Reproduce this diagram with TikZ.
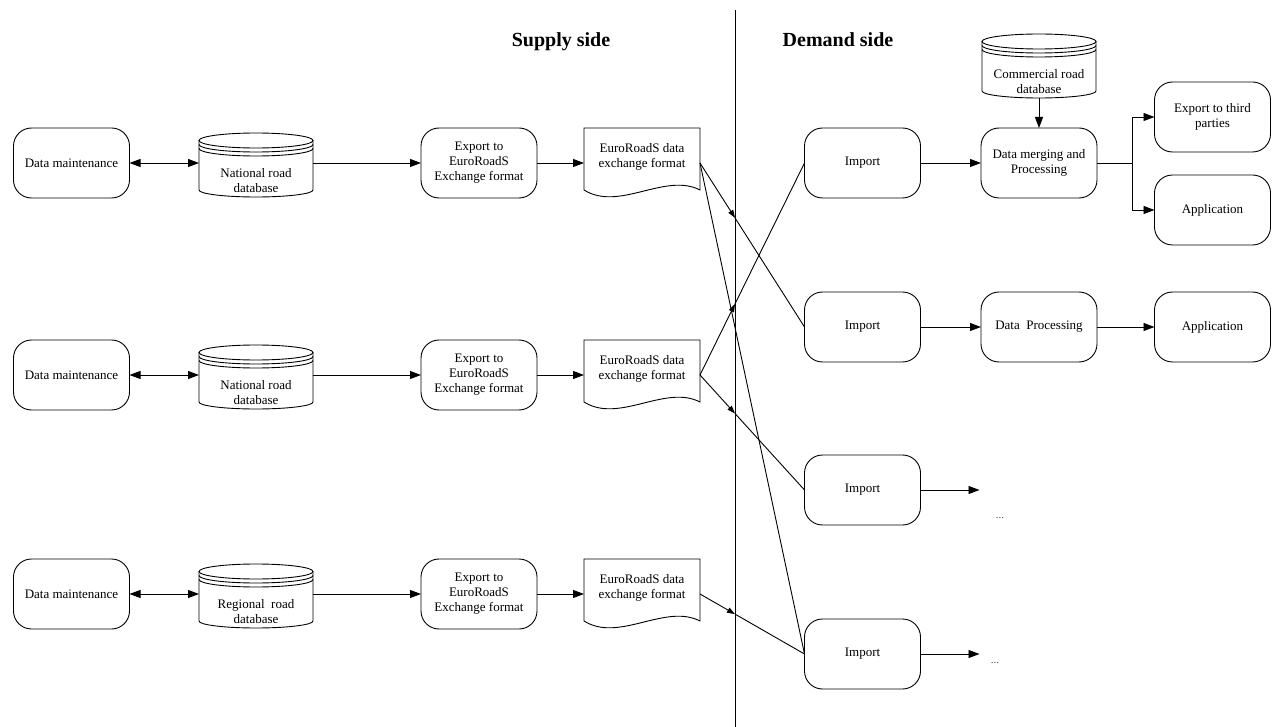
\documentclass[tikz,border=0pt]{standalone}
\usepackage{fontspec}
\setmainfont{Liberation Serif}
\usetikzlibrary{arrows.meta}
\tikzset{
  every node/.style={font=\fontsize{13}{15}\selectfont},
  box/.style={draw, rounded corners=18pt, minimum width=116pt, minimum height=70pt, align=center, line width=0.9pt, inner sep=2pt, outer sep=0pt},
  dbbox/.style={minimum width=114pt, minimum height=64pt, inner sep=0pt, outer sep=0pt},
  docbox/.style={minimum width=116pt, minimum height=70pt, inner sep=0pt, outer sep=0pt},
  txt/.style={align=center, inner sep=1pt},
  shapeline/.style={line width=0.9pt},
  conn/.style={line width=0.9pt, -{Triangle[length=11pt,width=8pt]}},
  biconn/.style={line width=0.9pt, {Triangle[length=11pt,width=8pt]}-{Triangle[length=11pt,width=8pt]}},
  midconn/.style={line width=0.9pt, -{Triangle[length=8pt,width=5.5pt]}},
  plainconn/.style={line width=0.9pt},
  title/.style={font=\fontsize{20}{24}\selectfont\bfseries, anchor=base},
  dots/.style={font=\fontsize{11}{12}\selectfont, text=black!70, anchor=base},
}
\newcommand\drawdb[1]{%
  \draw[shapeline] ([yshift=24.5pt]#1.center) ellipse [x radius=57pt, y radius=7.5pt];
  \draw[shapeline] ([yshift=24.5pt]#1.west) -- ([yshift=-25pt]#1.west)
      arc[start angle=180, end angle=360, x radius=57pt, y radius=7pt] -- ([yshift=24.5pt]#1.east);
  \draw[shapeline] ([yshift=20.5pt]#1.west) arc[start angle=180, end angle=360, x radius=57pt, y radius=7.5pt];
  \draw[shapeline] ([yshift=16.5pt]#1.west) arc[start angle=180, end angle=360, x radius=57pt, y radius=7.5pt];
}
\newcommand\drawdoc[1]{%
  \draw[shapeline] (#1.north west) -- (#1.north east) -- ([yshift=8pt]#1.south east)
    .. controls ([shift={(-35pt,26pt)}]#1.south east) and ([shift={(35pt,-14pt)}]#1.south west)
    .. ([yshift=8pt]#1.south west) -- cycle;
}
\begin{document}
\begin{tikzpicture}[x=1pt,y=1pt]
\useasboundingbox (0,0) rectangle (1272,-727);

% titles and divider
\node[title] (supply) at (561,-47) {Supply side};
\node[title] (demand) at (838,-47) {Demand side};
\coordinate (vt) at (735,-10);
\coordinate (vb) at (735,-727);
\draw[line width=0.8pt] (vt) -- (vb);

% ---------- supply side ----------
% row 1
\node[box] (dm1) at (71.5,-163) {Data maintenance};
\node[dbbox] (db1) at (256,-165) {};
\drawdb{db1}
\node[txt] (db1t) at ([yshift=-16pt]db1.center) {National road\\database};
\node[box] (ex1) at (479,-163) {Export to\\EuroRoadS\\Exchange format};
\node[docbox] (doc1) at (642,-163) {};
\drawdoc{doc1}
\node[txt] (doc1t) at ([yshift=6pt]doc1.center) {EuroRoadS data\\exchange format};

% row 2
\node[box] (dm2) at (71.5,-375) {Data maintenance};
\node[dbbox] (db2) at (256,-377) {};
\drawdb{db2}
\node[txt] (db2t) at ([yshift=-16pt]db2.center) {National road\\database};
\node[box] (ex2) at (479,-375) {Export to\\EuroRoadS\\Exchange format};
\node[docbox] (doc2) at (642,-375) {};
\drawdoc{doc2}
\node[txt] (doc2t) at ([yshift=6pt]doc2.center) {EuroRoadS data\\exchange format};

% row 3
\node[box] (dm3) at (71.5,-594) {Data maintenance};
\node[dbbox] (db3) at (256,-596) {};
\drawdb{db3}
\node[txt] (db3t) at ([yshift=-16pt]db3.center) {Regional~~road\\database};
\node[box] (ex3) at (479,-594) {Export to\\EuroRoadS\\Exchange format};
\node[docbox] (doc3) at (642,-594) {};
\drawdoc{doc3}
\node[txt] (doc3t) at ([yshift=6pt]doc3.center) {EuroRoadS data\\exchange format};

% supply connectors
\draw[biconn] (dm1.east) -- (dm1.east -| db1.west);
\draw[conn] (dm1.east -| db1.east) -- (ex1.west);
\draw[conn] (ex1.east) -- (doc1.west);
\draw[biconn] (dm2.east) -- (dm2.east -| db2.west);
\draw[conn] (dm2.east -| db2.east) -- (ex2.west);
\draw[conn] (ex2.east) -- (doc2.west);
\draw[biconn] (dm3.east) -- (dm3.east -| db3.west);
\draw[conn] (dm3.east -| db3.east) -- (ex3.west);
\draw[conn] (ex3.east) -- (doc3.west);

% ---------- demand side ----------
\node[box] (imp1) at (862.5,-163) {Import};
\node[box] (imp2) at (862.5,-327) {Import};
\node[box] (imp3) at (862.5,-490) {Import};
\node[box] (imp4) at (862.5,-654) {Import};

\node[dbbox] (cdb) at (1039,-66) {};
\drawdb{cdb}
\node[txt] (cdbt) at ([yshift=-16pt]cdb.center) {Commercial road\\database};
\node[box] (merge) at (1039,-163) {Data merging and\\Processing};
\node[box] (exp3) at (1212.5,-117) {Export to third\\parties};
\node[box] (app1) at (1212.5,-210) {Application};
\node[box] (proc) at (1039,-327) {Data~~Processing};
\node[box] (app2) at (1212.5,-327) {Application};

\draw[conn] (cdb.south) -- (merge.north);
\draw[conn] (imp1.east) -- (merge.west);
\draw[plainconn] (merge.east) -- ++(35,0) coordinate (br);
\draw[conn] (br) |- (exp3.west);
\draw[conn] (br) |- (app1.west);
\draw[conn] (imp2.east) -- (proc.west);
\draw[conn] (proc.east) -- (app2.west);
\draw[conn] (imp3.east) -- ++(59,0) coordinate (e3);
\draw[conn] (imp4.east) -- ++(59,0) coordinate (e4);
\node[dots] (dots3) at (1000,-518) {...};
\node[dots] (dots4) at (995,-663) {...};

% crossing connectors (arrow at the divider)
\draw[midconn] (doc1.east) -- (intersection of doc1.east--imp2.west and vt--vb) coordinate (x12);
\draw[plainconn] (x12) -- (imp2.west);
\draw[plainconn] (doc1.east) -- (imp4.west);
\draw[midconn] (doc2.east) -- (intersection of doc2.east--imp1.west and vt--vb) coordinate (x21);
\draw[plainconn] (x21) -- (imp1.west);
\draw[midconn] (doc2.east) -- (intersection of doc2.east--imp3.west and vt--vb) coordinate (x23);
\draw[plainconn] (x23) -- (imp3.west);
\draw[midconn] (doc3.east) -- (intersection of doc3.east--imp4.west and vt--vb) coordinate (x34);
\draw[plainconn] (x34) -- (imp4.west);
\end{tikzpicture}
\end{document}
